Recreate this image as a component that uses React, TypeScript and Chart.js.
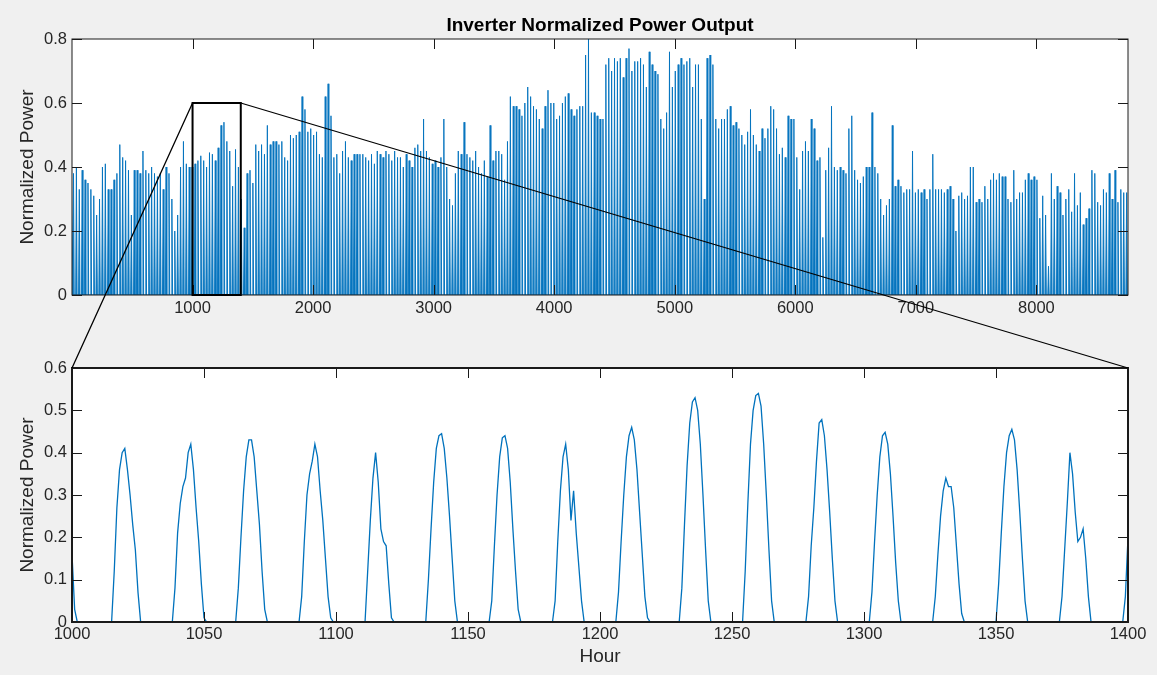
import React, { useEffect, useRef } from 'react';
import { Chart, registerables } from 'chart.js';

Chart.register(...registerables);

// ---------------- data ----------------
const TITLE = 'Inverter Normalized Power Output';
const Y_LABEL = 'Normalized Power';
const X_LABEL = 'Hour';

// daily peak of normalized power, day 0 .. 364
const dailyPeak = [
  0.38, 0.40, 0.33, 0.39, 0.36, 0.35, 0.33, 0.31, 0.25, 0.30,
  0.40, 0.41, 0.33, 0.33, 0.36, 0.38, 0.47, 0.43, 0.42, 0.39,
  0.25, 0.39, 0.39, 0.38, 0.45, 0.39, 0.38, 0.40, 0.38, 0.37,
  0.38, 0.33, 0.40, 0.38, 0.30, 0.20, 0.25, 0.40, 0.48, 0.41,
  0.40, 0.40, 0.41, 0.42, 0.435, 0.42, 0.40, 0.445, 0.44, 0.42,
  0.46, 0.53, 0.54, 0.48, 0.45, 0.34, 0.455, 0.40, 0.30, 0.21,
  0.38, 0.39, 0.35, 0.47, 0.45, 0.47, 0.44, 0.53, 0.47, 0.48,
  0.48, 0.47, 0.48, 0.43, 0.42, 0.50, 0.49, 0.50, 0.51, 0.62,
  0.58, 0.51, 0.52, 0.50, 0.51, 0.44, 0.43, 0.62, 0.66, 0.56,
  0.43, 0.44, 0.38, 0.45, 0.48, 0.43, 0.42, 0.44, 0.44, 0.44,
  0.44, 0.43, 0.42, 0.44, 0.41, 0.45, 0.44, 0.43, 0.45, 0.44,
  0.42, 0.45, 0.43, 0.43, 0.40, 0.44, 0.42, 0.40, 0.46, 0.47,
  0.45, 0.55, 0.45, 0.43, 0.41, 0.42, 0.40, 0.43, 0.55, 0.40,
  0.30, 0.28, 0.38, 0.45, 0.44, 0.54, 0.44, 0.43, 0.42, 0.45,
  0.40, 0.38, 0.42, 0.37, 0.53, 0.42, 0.45, 0.45, 0.44, 0.36,
  0.48, 0.62, 0.59, 0.59, 0.58, 0.56, 0.60, 0.65, 0.62, 0.59,
  0.58, 0.55, 0.52, 0.59, 0.64, 0.60, 0.60, 0.55, 0.56, 0.60,
  0.62, 0.63, 0.58, 0.56, 0.58, 0.59, 0.59, 0.75, 0.80, 0.57,
  0.57, 0.56, 0.55, 0.55, 0.72, 0.74, 0.70, 0.74, 0.73, 0.74,
  0.68, 0.74, 0.77, 0.70, 0.73, 0.73, 0.74, 0.72, 0.65, 0.76,
  0.72, 0.70, 0.69, 0.55, 0.52, 0.57, 0.76, 0.65, 0.70, 0.72,
  0.74, 0.72, 0.73, 0.74, 0.65, 0.72, 0.72, 0.55, 0.30, 0.74,
  0.75, 0.72, 0.55, 0.52, 0.55, 0.55, 0.58, 0.59, 0.53, 0.54,
  0.52, 0.50, 0.47, 0.51, 0.58, 0.50, 0.47, 0.45, 0.52, 0.49,
  0.52, 0.59, 0.58, 0.52, 0.44, 0.46, 0.43, 0.56, 0.55, 0.55,
  0.43, 0.33, 0.45, 0.48, 0.45, 0.55, 0.52, 0.42, 0.43, 0.18,
  0.39, 0.46, 0.59, 0.40, 0.39, 0.40, 0.39, 0.38, 0.52, 0.56,
  0.39, 0.36, 0.35, 0.37, 0.40, 0.40, 0.57, 0.40, 0.38, 0.30,
  0.25, 0.28, 0.30, 0.53, 0.34, 0.36, 0.34, 0.32, 0.33, 0.33,
  0.45, 0.32, 0.33, 0.32, 0.33, 0.30, 0.33, 0.44, 0.33, 0.33,
  0.33, 0.32, 0.33, 0.34, 0.30, 0.20, 0.31, 0.32, 0.30, 0.31,
  0.40, 0.40, 0.29, 0.30, 0.29, 0.34, 0.30, 0.36, 0.38, 0.36,
  0.38, 0.37, 0.37, 0.30, 0.29, 0.39, 0.30, 0.32, 0.32, 0.36,
  0.38, 0.36, 0.37, 0.36, 0.24, 0.31, 0.25, 0.09, 0.38, 0.30,
  0.34, 0.32, 0.25, 0.30, 0.33, 0.26, 0.38, 0.28, 0.32, 0.22,
  0.24, 0.27, 0.39, 0.38, 0.29, 0.28, 0.33, 0.32, 0.38, 0.30,
  0.39, 0.29, 0.33, 0.32, 0.32,
];
// hour of day: sunrise, peak, sunset (approx. from the zoomed plot)
const dayHours = [6.5, 12.5, 18.5];
const HOURS_PER_DAY = 24;
const YEAR_HOURS = 8760;

// zoomed window, hourly values (nonzero stretches; everything else is 0)
const zoomRange = [1000, 1400];
const zoomYMax = 0.6;
const zoomSegStarts = [1000, 1016, 1039, 1063, 1087, 1112, 1135, 1159, 1183, 1207, 1231, 1255, 1279, 1303, 1327, 1351, 1375, 1399];
const zoomSegValues = [
  [0.16, 0.03],
  [0.12, 0.27, 0.36, 0.40, 0.41, 0.36, 0.30, 0.23, 0.17, 0.07],
  [0.08, 0.21, 0.28, 0.32, 0.34, 0.40, 0.42, 0.36, 0.27, 0.19, 0.09, 0.01],
  [0.08, 0.20, 0.31, 0.39, 0.43, 0.43, 0.39, 0.31, 0.23, 0.12, 0.03],
  [0.06, 0.19, 0.30, 0.35, 0.38, 0.42, 0.39, 0.31, 0.24, 0.15, 0.06, 0.01],
  [0.12, 0.24, 0.34, 0.40, 0.33, 0.22, 0.19, 0.18, 0.09, 0.01],
  [0.10, 0.22, 0.33, 0.41, 0.44, 0.445, 0.41, 0.34, 0.25, 0.15, 0.05],
  [0.05, 0.18, 0.30, 0.39, 0.435, 0.44, 0.41, 0.33, 0.22, 0.12, 0.03],
  [0.05, 0.19, 0.31, 0.39, 0.42, 0.36, 0.24, 0.31, 0.21, 0.13, 0.05],
  [0.07, 0.19, 0.30, 0.39, 0.44, 0.46, 0.43, 0.36, 0.26, 0.16, 0.06, 0.01],
  [0.08, 0.23, 0.37, 0.47, 0.52, 0.53, 0.50, 0.42, 0.30, 0.17, 0.05],
  [0.12, 0.28, 0.42, 0.50, 0.535, 0.54, 0.51, 0.42, 0.30, 0.17, 0.05],
  [0.06, 0.18, 0.27, 0.38, 0.47, 0.478, 0.44, 0.36, 0.26, 0.15, 0.05],
  [0.07, 0.19, 0.30, 0.39, 0.44, 0.448, 0.42, 0.35, 0.25, 0.14, 0.05],
  [0.06, 0.16, 0.25, 0.31, 0.34, 0.32, 0.32, 0.27, 0.18, 0.09, 0.02],
  [0.09, 0.21, 0.32, 0.40, 0.44, 0.455, 0.43, 0.36, 0.26, 0.15, 0.05],
  [0.06, 0.17, 0.28, 0.40, 0.35, 0.26, 0.19, 0.20, 0.22, 0.15, 0.06],
  [0.06, 0.20],
];

const topXTicks = [1000, 2000, 3000, 4000, 5000, 6000, 7000, 8000];
const topYTicks = [0, 0.2, 0.4, 0.6, 0.8];
const zoomXTicks = [1000, 1050, 1100, 1150, 1200, 1250, 1300, 1350, 1400];
const zoomYTicks = [0, 0.1, 0.2, 0.3, 0.4, 0.5, 0.6];

// ---------------- series building ----------------
const topSeries: { x: number; y: number }[] = [{ x: 0, y: 0 }];
dailyPeak.forEach((p, d) => {
  const base = d * HOURS_PER_DAY;
  topSeries.push({ x: base + dayHours[0], y: 0 }, { x: base + dayHours[1], y: p }, { x: base + dayHours[2], y: 0 });
});
topSeries.push({ x: YEAR_HOURS, y: 0 });

const zoomMap = new Map<number, number>();
zoomSegStarts.forEach((s, i) => zoomSegValues[i].forEach((v, j) => zoomMap.set(s + j, v)));
const zoomSeries: { x: number; y: number }[] = [];
for (let h = zoomRange[0]; h <= zoomRange[1]; h++) zoomSeries.push({ x: h, y: zoomMap.get(h) ?? 0 });

// ---------------- styling ----------------
const FONT = '"Liberation Sans", Arial, Helvetica, sans-serif';
const TEXT = '#262626';
const LINE = '#0072BD';
const BG = '#f0f0f0';
const W = 1157;
const TOP_H = 340;
const BOT_H = 335;

const frame = {
  id: 'matlabFrame',
  beforeDatasetsDraw(chart: any) {
    const { ctx, chartArea: a } = chart;
    ctx.save();
    ctx.fillStyle = '#ffffff';
    ctx.fillRect(a.left, a.top, a.right - a.left, a.bottom - a.top);
    ctx.restore();
  },
  afterDatasetsDraw(chart: any, _args: any, opts: any) {
    const { ctx, chartArea: a, scales } = chart;
    ctx.save();
    ctx.strokeStyle = '#1a1a1a';
    ctx.lineWidth = opts.tickWidth || 1;
    const L = opts.tickLen || 10;
    ctx.beginPath();
    scales.x.ticks.forEach((t: any) => {
      const x = Math.round(scales.x.getPixelForValue(t.value)) + 0.5;
      ctx.moveTo(x, a.bottom); ctx.lineTo(x, a.bottom - L);
      ctx.moveTo(x, a.top); ctx.lineTo(x, a.top + L);
    });
    scales.y.ticks.forEach((t: any) => {
      const y = Math.round(scales.y.getPixelForValue(t.value)) + 0.5;
      ctx.moveTo(a.left, y); ctx.lineTo(a.left + L, y);
      ctx.moveTo(a.right, y); ctx.lineTo(a.right - L, y);
    });
    ctx.stroke();
    ctx.lineWidth = opts.borderWidth || 1;
    ctx.strokeRect(a.left, a.top, a.right - a.left, a.bottom - a.top);
    if (opts.zoomBox) {
      const x0 = scales.x.getPixelForValue(zoomRange[0]);
      const x1 = scales.x.getPixelForValue(zoomRange[1]);
      const y0 = scales.y.getPixelForValue(0);
      const y1 = scales.y.getPixelForValue(zoomYMax);
      ctx.strokeStyle = '#000';
      ctx.lineWidth = 2;
      ctx.strokeRect(x0, y1, x1 - x0, y0 - y1);
    }
    if (opts.title) {
      ctx.fillStyle = '#000';
      ctx.font = `bold 19px ${FONT}`;
      ctx.textAlign = 'center';
      ctx.textBaseline = 'alphabetic';
      ctx.fillText(opts.title, (a.left + a.right) / 2, 30.5);
    }
    ctx.restore();
  },
};

function axisX(min: number, max: number, ticks: number[], height: number, pad: number, title?: string) {
  return {
    type: 'linear',
    min,
    max,
    afterBuildTicks: (s: any) => { s.ticks = ticks.map((v) => ({ value: v })); },
    afterFit: (s: any) => { s.height = height; },
    grid: { display: false, drawTicks: false },
    border: { display: false },
    ticks: { autoSkip: false, maxRotation: 0, padding: pad, color: TEXT, font: { family: FONT, size: 16.5 }, callback: (v: any) => String(v) },
    title: title
      ? { display: true, text: title, color: TEXT, font: { family: FONT, size: 19 }, padding: { top: 0, bottom: 6.6 } }
      : { display: false },
  };
}

function axisY(max: number, ticks: number[]) {
  return {
    type: 'linear',
    min: 0,
    max,
    afterBuildTicks: (s: any) => { s.ticks = ticks.map((v) => ({ value: v })); },
    afterFit: (s: any) => { s.width = 72; },
    grid: { display: false, drawTicks: false },
    border: { display: false },
    ticks: { autoSkip: false, padding: 5, color: TEXT, font: { family: FONT, size: 16.5 }, callback: (v: any) => String(v) },
    title: { display: true, text: Y_LABEL, color: TEXT, font: { family: FONT, size: 19 }, padding: { top: 16.6, bottom: 0 } },
  };
}

export default function App() {
  const topRef = useRef<HTMLCanvasElement>(null);
  const botRef = useRef<HTMLCanvasElement>(null);
  const ovRef = useRef<HTMLCanvasElement>(null);

  useEffect(() => {
    const top = new Chart(topRef.current as HTMLCanvasElement, {
      type: 'line',
      data: {
        datasets: [{
          data: topSeries,
          borderColor: LINE,
          backgroundColor: 'rgba(0,114,189,0.85)',
          borderWidth: 0.9,
          pointRadius: 0,
          tension: 0,
          fill: 'origin',
        }],
      },
      options: {
        animation: false,
        responsive: false,
        parsing: false,
        normalized: true,
        layout: { padding: { left: 0, right: 29, top: 39, bottom: 0 } },
        scales: { x: axisX(0, YEAR_HOURS, topXTicks, 45, 4) as any, y: axisY(0.8, topYTicks) as any },
        plugins: {
          legend: { display: false },
          tooltip: { enabled: false },
          filler: { propagate: false },
          matlabFrame: { tickLen: 10, borderWidth: 1, zoomBox: true, title: TITLE },
        } as any,
      },
      plugins: [frame],
    } as any);

    const bot = new Chart(botRef.current as HTMLCanvasElement, {
      type: 'line',
      data: {
        datasets: [{
          data: zoomSeries,
          borderColor: LINE,
          borderWidth: 1.3,
          pointRadius: 0,
          tension: 0,
          fill: false,
        }],
      },
      options: {
        animation: false,
        responsive: false,
        parsing: false,
        normalized: true,
        layout: { padding: { left: 0, right: 29, top: 28, bottom: 0 } },
        scales: { x: axisX(zoomRange[0], zoomRange[1], zoomXTicks, 53, 3, X_LABEL) as any, y: axisY(zoomYMax, zoomYTicks) as any },
        plugins: {
          legend: { display: false },
          tooltip: { enabled: false },
          matlabFrame: { tickLen: 10, borderWidth: 2 },
        } as any,
      },
      plugins: [frame],
    } as any);

    // connector lines from the zoom box to the lower axes
    const ov = ovRef.current as HTMLCanvasElement;
    const ctx = ov.getContext('2d') as CanvasRenderingContext2D;
    ctx.clearRect(0, 0, ov.width, ov.height);
    const tx: any = top.scales.x;
    const ty: any = top.scales.y;
    const bx: any = bot.scales.x;
    const by: any = bot.scales.y;
    const xa = tx.getPixelForValue(zoomRange[0]);
    const xb = tx.getPixelForValue(zoomRange[1]);
    const yt = ty.getPixelForValue(zoomYMax);
    const ybTop = by.getPixelForValue(zoomYMax) + TOP_H;
    ctx.strokeStyle = '#000';
    ctx.lineWidth = 1.3;
    ctx.beginPath();
    ctx.moveTo(xa, yt);
    ctx.lineTo(bx.getPixelForValue(zoomRange[0]), ybTop);
    ctx.moveTo(xb, yt);
    ctx.lineTo(bx.getPixelForValue(zoomRange[1]), ybTop);
    ctx.stroke();

    return () => {
      top.destroy();
      bot.destroy();
    };
  }, []);

  return (
    <div style={{ position: 'absolute', left: 0, top: 0, width: W, height: TOP_H + BOT_H, background: BG, overflow: 'hidden' }}>
      <canvas ref={topRef} width={W} height={TOP_H} style={{ position: 'absolute', left: 0, top: 0 }} />
      <canvas ref={botRef} width={W} height={BOT_H} style={{ position: 'absolute', left: 0, top: TOP_H }} />
      <canvas ref={ovRef} width={W} height={TOP_H + BOT_H} style={{ position: 'absolute', left: 0, top: 0, pointerEvents: 'none' }} />
    </div>
  );
}
